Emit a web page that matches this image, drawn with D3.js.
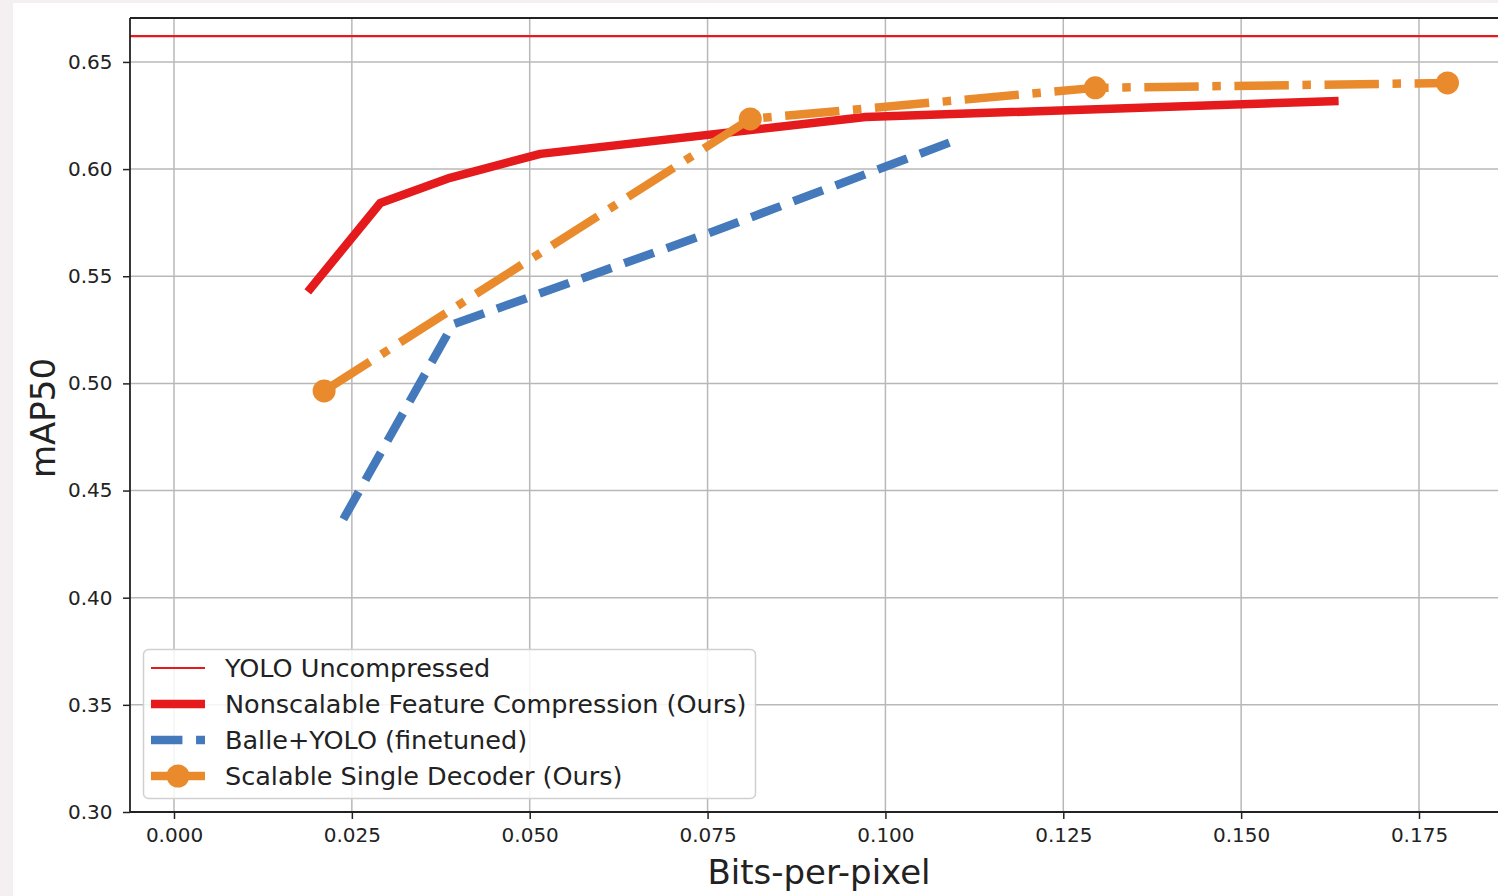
<!DOCTYPE html>
<html><head><meta charset="utf-8">
<script src="https://cdn.jsdelivr.net/npm/d3@7"></script>
<style>
html,body{margin:0;padding:0;background:#f4eff0;overflow:hidden}
svg{display:block}
text{font-family:"DejaVu Sans",sans-serif;fill:#222}
</style></head>
<body>
<script>
// ---- data ----
const xTicks = [0.000, 0.025, 0.050, 0.075, 0.100, 0.125, 0.150, 0.175];
const yTicks = [0.30, 0.35, 0.40, 0.45, 0.50, 0.55, 0.60, 0.65];
const yoloUncompressed = 0.662;
const nonscalableX = [0.0188, 0.0290, 0.0388, 0.0515, 0.0972, 0.1637];
const nonscalableY = [0.5427, 0.5842, 0.5959, 0.6071, 0.6243, 0.6318];
const balleX = [0.0238, 0.0392, 0.0755, 0.1091];
const balleY = [0.4366, 0.5275, 0.5705, 0.6125];
const scalableX = [0.0211, 0.0810, 0.1295, 0.1790];
const scalableY = [0.4965, 0.6234, 0.6379, 0.6402];
const legendLabels = ["YOLO Uncompressed", "Nonscalable Feature Compression (Ours)", "Balle+YOLO (finetuned)", "Scalable Single Decoder (Ours)"];

const W = 1498, H = 896;
const svg = d3.select("body").append("svg").attr("width", W).attr("height", H);
// white figure background
svg.append("rect").attr("x", 13).attr("y", 3).attr("width", W).attr("height", H).attr("fill", "#fff");

const plotL = 130, plotT = 18, plotB = 812, plotR = 1540;
const x = d3.scaleLinear().domain([0, 0.175]).range([174, 1419]);
const y = d3.scaleLinear().domain([0.30, 0.6705]).range([plotB, plotT]);

const defs = svg.append("defs");
defs.append("clipPath").attr("id", "clip").append("rect")
  .attr("x", plotL).attr("y", plotT).attr("width", plotR - plotL).attr("height", plotB - plotT);

// grid
const grid = svg.append("g");
grid.selectAll(".gx").data(xTicks).join("line")
  .attr("x1", d => x(d)).attr("x2", d => x(d)).attr("y1", plotT).attr("y2", plotB)
  .attr("stroke", "#b8b8b8").attr("stroke-width", 1.5);
grid.selectAll(".gy").data(yTicks).join("line")
  .attr("x1", plotL).attr("x2", plotR).attr("y1", d => y(d)).attr("y2", d => y(d))
  .attr("stroke", "#b8b8b8").attr("stroke-width", 1.5);

// axes
const xAxis = d3.axisBottom(x).tickValues(xTicks).tickFormat(d3.format(".3f")).tickSize(7).tickPadding(9);
const yAxis = d3.axisLeft(y).tickValues(yTicks).tickFormat(d3.format(".2f")).tickSize(7).tickPadding(10.5);
const gx = svg.append("g").attr("transform", `translate(0,${plotB})`).call(xAxis);
const gy = svg.append("g").attr("transform", `translate(${plotL},0)`).call(yAxis);
[gx, gy].forEach(g => {
  g.select(".domain").remove();
  g.selectAll(".tick line").attr("stroke", "#222").attr("stroke-width", 1.5);
  g.selectAll(".tick text").attr("fill", "#222").style("font-size", "20px").style("font-family", "DejaVu Sans");
});

const plot = svg.append("g").attr("clip-path", "url(#clip)");

// YOLO uncompressed horizontal line
plot.append("line").attr("x1", plotL).attr("x2", plotR)
  .attr("y1", y(yoloUncompressed)).attr("y2", y(yoloUncompressed))
  .attr("stroke", "#e41a1c").attr("stroke-width", 2.2);

const line = d3.line().x(d => x(d[0])).y(d => y(d[1]));
const red = "#e41a1c", blue = "#4479bb", orange = "#e98a2c";
const lw = 8.5;
const dashBlue = `${3.7*lw} ${1.6*lw}`;
const dashOrange = `${6.4*lw} ${1.6*lw} ${lw} ${1.6*lw}`;

plot.append("path").datum(d3.zip(nonscalableX, nonscalableY)).attr("d", line)
  .attr("fill", "none").attr("stroke", red).attr("stroke-width", lw).attr("stroke-linejoin", "round");
plot.append("path").datum(d3.zip(balleX, balleY)).attr("d", line)
  .attr("fill", "none").attr("stroke", blue).attr("stroke-width", lw)
  .attr("stroke-dasharray", dashBlue).attr("stroke-linejoin", "round");
plot.append("path").datum(d3.zip(scalableX, scalableY)).attr("d", line)
  .attr("fill", "none").attr("stroke", orange).attr("stroke-width", lw)
  .attr("stroke-dasharray", dashOrange).attr("stroke-linejoin", "round");
plot.selectAll(".m").data(d3.zip(scalableX, scalableY)).join("circle")
  .attr("cx", d => x(d[0])).attr("cy", d => y(d[1])).attr("r", 11.5).attr("fill", orange);

// spines
svg.append("line").attr("x1", plotL).attr("x2", plotL).attr("y1", plotT).attr("y2", plotB).attr("stroke", "#222").attr("stroke-width", 1.8);
svg.append("line").attr("x1", plotL).attr("x2", plotR).attr("y1", plotB).attr("y2", plotB).attr("stroke", "#222").attr("stroke-width", 1.8);
svg.append("line").attr("x1", plotL).attr("x2", plotR).attr("y1", plotT).attr("y2", plotT).attr("stroke", "#222").attr("stroke-width", 1.8);

// axis labels
svg.append("text").attr("x", 819).attr("y", 884).attr("text-anchor", "middle")
  .style("font-size", "34px").text("Bits-per-pixel");
svg.append("text").attr("transform", `translate(55,418) rotate(-90)`).attr("text-anchor", "middle")
  .style("font-size", "34px").text("mAP50");

// legend
const lg = svg.append("g");
lg.append("rect").attr("x", 143.5).attr("y", 649.5).attr("width", 612).attr("height", 149).attr("rx", 5)
  .attr("fill", "rgba(255,255,255,0.85)").attr("stroke", "#d0d0d0").attr("stroke-width", 1.5);
const rowY = i => 668 + i * 36;
const hx1 = 151, hx2 = 205;
lg.append("line").attr("x1", hx1).attr("x2", hx2).attr("y1", rowY(0)).attr("y2", rowY(0)).attr("stroke", red).attr("stroke-width", 2.2);
lg.append("line").attr("x1", hx1).attr("x2", hx2).attr("y1", rowY(1)).attr("y2", rowY(1)).attr("stroke", red).attr("stroke-width", lw);
lg.append("line").attr("x1", hx1).attr("x2", hx2).attr("y1", rowY(2)).attr("y2", rowY(2)).attr("stroke", blue).attr("stroke-width", lw)
  .attr("stroke-dasharray", dashBlue);
lg.append("line").attr("x1", hx1).attr("x2", hx2).attr("y1", rowY(3)).attr("y2", rowY(3)).attr("stroke", orange).attr("stroke-width", lw)
  .attr("stroke-dasharray", dashOrange);
lg.append("circle").attr("cx", (hx1 + hx2) / 2).attr("cy", rowY(3)).attr("r", 11.5).attr("fill", orange);
lg.selectAll(".lt").data(legendLabels).join("text")
  .attr("x", 225).attr("y", (d, i) => rowY(i)).attr("dy", "0.36em")
  .style("font-size", "25.5px").text(d => d);
</script>
</body></html>
